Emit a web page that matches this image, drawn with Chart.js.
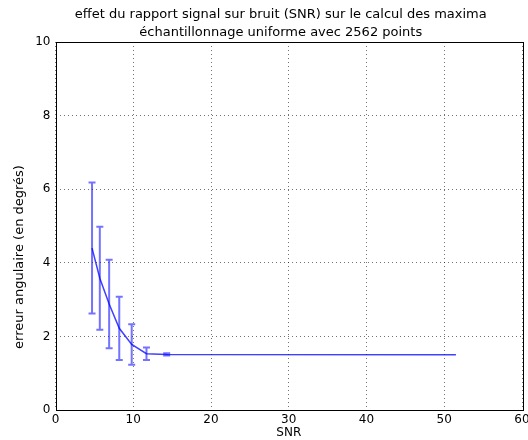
<!DOCTYPE html>
<html>
<head>
<meta charset="utf-8">
<script src="https://cdn.jsdelivr.net/npm/chart.js@4/dist/chart.umd.min.js"></script>
<style>
html, body { margin: 0; padding: 0; background: #fff; overflow: hidden; }
#wrap { width: 528px; height: 440px; overflow: hidden; }
</style>
</head>
<body>
<div id="wrap"><canvas id="chart" width="536" height="440"></canvas></div>
<script>
// values
var snr = [4.7, 5.7, 6.9, 8.2, 9.8, 11.7, 14.3, 51.5];
var erreur = [4.40, 3.58, 2.88, 2.22, 1.78, 1.53, 1.51, 1.50];
var ecart = [1.78, 1.40, 1.20, 0.86, 0.55, 0.17, 0.03, 0];
var xTicks = [0, 10, 20, 30, 40, 50, 60];
var yTicks = [0, 2, 4, 6, 8, 10];
var titre = ["effet du rapport signal sur bruit (SNR) sur le calcul des maxima",
             "échantillonnage uniforme avec 2562 points"];
var labelX = "SNR";
var labelY = "erreur angulaire (en degrés)";

var police = "'DejaVu Sans', sans-serif";

//Error bars with caps
var errorBars = {
    id: "errorBars",
    afterDatasetsDraw: function(chart)
    {
        var ctx = chart.ctx;
        var xs = chart.scales.x, ys = chart.scales.y;
        ctx.save();
        ctx.strokeStyle = "rgba(0,0,255,0.55)";
        ctx.lineWidth = 2;
        for (var i = 0; i < snr.length; i++) {
            if (!ecart[i]) continue;
            var px = xs.getPixelForValue(snr[i]);
            var top = ys.getPixelForValue(erreur[i] + ecart[i]);
            var bot = ys.getPixelForValue(erreur[i] - ecart[i]);
            ctx.beginPath();
            ctx.moveTo(px, top); ctx.lineTo(px, bot);
            ctx.moveTo(px - 3.5, top); ctx.lineTo(px + 3.5, top);
            ctx.moveTo(px - 3.5, bot); ctx.lineTo(px + 3.5, bot);
            ctx.stroke();
        }
        ctx.restore();
    }
};

//Frame around the axes + titles
var cadre = {
    id: "cadre",
    afterDraw: function(chart)
    {
        var ctx = chart.ctx;
        var a = chart.chartArea;
        ctx.save();
        ctx.strokeStyle = "#000";
        ctx.lineWidth = 1;
        ctx.strokeRect(Math.round(a.left) + 0.5, Math.round(a.top) + 0.5,
                       Math.round(a.right - a.left), Math.round(a.bottom - a.top));

        ctx.fillStyle = "#000";
        ctx.font = "13px " + police;
        ctx.textAlign = "center";
        ctx.textBaseline = "middle";
        var cx = (a.left + a.right) / 2 - 8;
        ctx.fillText(titre[0], cx, 15);
        ctx.fillText(titre[1], cx, 33);

        ctx.translate(20, (a.top + a.bottom) / 2 + 31);
        ctx.rotate(-Math.PI / 2);
        ctx.fillText(labelY, 0, 0);
        ctx.restore();
    }
};

new Chart(document.getElementById("chart"), {
    type: "scatter",
    data: {
        datasets: [{
            data: snr.map(function(x, i) { return {x: x, y: erreur[i]}; }),
            showLine: true,
            borderColor: "rgba(0,0,255,0.75)",
            borderWidth: 1.5,
            pointRadius: 0,
            tension: 0
        }]
    },
    options: {
        responsive: false,
        animation: false,
        layout: { padding: { top: 42, right: 14, left: 0, bottom: 0 } },
        plugins: {
            legend: { display: false },
            tooltip: { enabled: false }
        },
        scales: {
            x: {
                type: "linear",
                min: 0,
                max: 60,
                afterBuildTicks: function(scale) {
                    scale.ticks = xTicks.map(function(v) { return {value: v}; });
                },
                afterFit: function(scale) { scale.height = 30; },
                grid: { color: "rgba(0,0,0,0.55)", lineWidth: 1, drawTicks: false },
                border: { display: false, dash: [1, 3] },
                ticks: { color: "#000", padding: 3, font: { family: police, size: 12 }, maxRotation: 0 },
                title: { display: true, text: labelX, color: "#000", padding: 0, font: { family: police, size: 12 } }
            },
            y: {
                type: "linear",
                min: 0,
                max: 10,
                afterBuildTicks: function(scale) {
                    scale.ticks = yTicks.map(function(v) { return {value: v}; });
                },
                afterFit: function(scale) { scale.width = 55.5; },
                grid: { color: "rgba(0,0,0,0.55)", lineWidth: 1, drawTicks: false },
                border: { display: false, dash: [1, 3] },
                ticks: { color: "#000", padding: 5, font: { family: police, size: 12 } }
            }
        }
    },
    plugins: [errorBars, cadre]
});
</script>
</body>
</html>
